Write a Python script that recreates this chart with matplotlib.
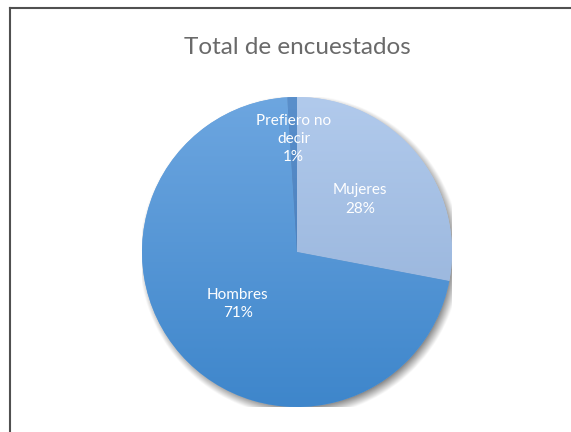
import numpy as np
import matplotlib
matplotlib.use("Agg")
import matplotlib.pyplot as plt
from matplotlib.lines import Line2D
from matplotlib.colors import LinearSegmentedColormap

# survey respondents by gender (percent)
labels = ["Mujeres", "Hombres", "Prefiero no\ndecir"]
values = [28, 71, 1]
pct_labels = ["28%", "71%", "1%"]

top_colors = ["#B1CAEC", "#6DA6E0", "#5A8FCB"]
bottom_colors = ["#8FADD6", "#3E86CB", "#3F74B3"]
label_dist = [0.53, 0.51, 0.73]

plt.rcParams["font.family"] = ["Lato", "DejaVu Sans"]

W, H = 571, 432
fig = plt.figure(figsize=(W / 100, H / 100), dpi=100)
fig.patch.set_facecolor("white")

# pie geometry in pixels
cx, cy, r = 297, 252, 155
ax = fig.add_axes([(cx - r) / W, (H - cy - r) / H, 2 * r / W, 2 * r / H])
ax.set_axis_off()

# soft drop shadow under the pie
gx = np.linspace(-1.2, 1.2, 400)
gxx, gyy = np.meshgrid(gx, gx)
dist = np.hypot(gxx - 0.02, gyy + 0.025)
shadow = np.clip((1.04 - dist) / 0.08, 0, 1) * 0.55
sh_rgba = np.zeros(dist.shape + (4,))
sh_rgba[..., 3] = shadow
ax.imshow(sh_rgba, extent=(-1.2, 1.2, -1.2, 1.2), origin="lower", zorder=0,
          interpolation="bilinear")

wedges, _ = ax.pie(values, startangle=90, counterclock=False,
                   colors=top_colors, wedgeprops={"linewidth": 0})
for w in wedges:
    w.set_zorder(1)

# vertical gradient inside each slice
grad = np.linspace(0, 1, 256).reshape(-1, 1)
for w, c0, c1 in zip(wedges, top_colors, bottom_colors):
    cmap = LinearSegmentedColormap.from_list("g", [c1, c0])
    im = ax.imshow(grad, cmap=cmap, extent=(-1, 1, -1, 1), origin="lower",
                   aspect="auto", zorder=2, interpolation="bilinear")
    im.set_clip_path(w)

# slice labels placed along each slice's mid angle
start = 90.0
total = sum(values)
for lab, pct, v, d in zip(labels, pct_labels, values, label_dist):
    sweep = 360.0 * v / total
    mid = np.deg2rad(start - sweep / 2)
    start -= sweep
    ax.text(d * np.cos(mid), d * np.sin(mid), f"{lab}\n{pct}", ha="center",
            va="center", color="white", fontsize=11, linespacing=1.4, zorder=5)

ax.set_xlim(-1, 1)
ax.set_ylim(-1, 1)
ax.set_aspect("auto")

fig.text(cx / W, 1 - 47 / H, "Total de encuestados", ha="center", va="center",
         fontsize=17.5, color="#6A6A6A")

# chart frame (left and top edges)
fig.add_artist(Line2D([9.5 / W, 9.5 / W], [0, 1 - 7.5 / H], color="#505050", lw=1.5))
fig.add_artist(Line2D([9.5 / W, 1], [1 - 7.5 / H, 1 - 7.5 / H], color="#505050", lw=1.5))

fig.savefig("out.png", dpi=100)
